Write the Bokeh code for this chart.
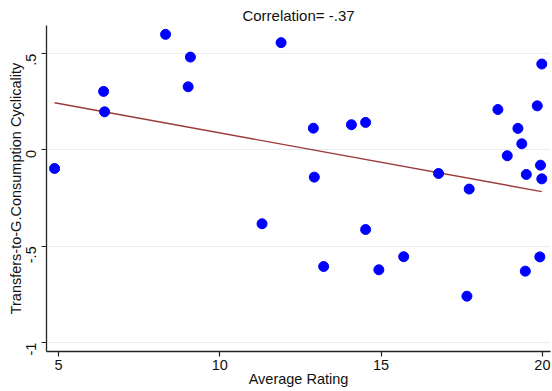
import math
from bokeh.plotting import figure
from bokeh.models import Range1d, FixedTicker, ColumnDataSource
from bokeh.embed import file_html
from bokeh.resources import INLINE

avg_rating = [4.88, 6.40, 6.43, 8.32, 9.09, 9.02, 11.90, 12.90, 14.08, 14.52,
              12.93, 11.31, 14.52, 13.22, 14.93, 15.70, 17.66, 19.47, 19.92,
              16.78, 17.73, 18.91, 19.36, 19.50, 19.94, 19.98, 19.98, 18.62,
              19.84, 19.24]
cyclicality = [-0.096, 0.304, 0.198, 0.600, 0.482, 0.328, 0.557, 0.113, 0.131, 0.143,
               -0.141, -0.383, -0.413, -0.605, -0.622, -0.554, -0.759, -0.629, -0.555,
               -0.122, -0.203, -0.030, 0.032, -0.127, -0.079, -0.150, 0.446, 0.210,
               0.229, 0.112]
# fitted line (at the ends of the data range)
fit_x = [4.88, 19.98]
fit_y = [0.245, -0.216]
x_ticks = [5, 10, 15, 20]
y_ticks = [-1, -0.5, 0, 0.5]
y_tick_labels = ["-1", "-.5", "0", ".5"]
title_text = "Correlation= -.37"
x_label = "Average Rating"
y_label = "Transfers-to-G.Consumption Cyclicality"

FONT = "Liberation Sans"

p = figure(width=552, height=391, output_backend="svg", toolbar_location=None,
           x_range=Range1d(4.63, 20.25), y_range=Range1d(-1.046, 0.646),
           min_border_left=46, min_border_right=2, min_border_top=25,
           min_border_bottom=40, outline_line_color=None, title=title_text)

p.title.align = "center"
p.title.text_font = FONT
p.title.text_font_size = "15px"
p.title.text_font_style = "normal"
p.title.text_color = "#111111"
p.title.standoff = 4

p.line(fit_x, fit_y, line_color="#9b3a3a", line_width=1.4)

src = ColumnDataSource(dict(x=avg_rating, y=cyclicality))
p.scatter("x", "y", source=src, size=10, fill_color="#0000ff", line_color="#0000ff")

p.xgrid.grid_line_color = None
p.ygrid.grid_line_color = "#e6eef1"
p.ygrid.grid_line_width = 1.2

p.xaxis.ticker = FixedTicker(ticks=x_ticks)
p.yaxis.ticker = FixedTicker(ticks=y_ticks)
p.yaxis.major_label_overrides = {t: l for t, l in zip(y_ticks, y_tick_labels)}
p.yaxis.major_label_orientation = math.pi / 2

p.xaxis.axis_label = x_label
p.yaxis.axis_label = y_label

for ax in (p.xaxis, p.yaxis):
    ax.axis_line_color = "#222222"
    ax.axis_line_width = 1.3
    ax.major_tick_line_color = "#222222"
    ax.major_tick_line_width = 1.2
    ax.major_tick_out = 5
    ax.major_tick_in = 0
    ax.minor_tick_line_color = None
    ax.major_label_text_font = FONT
    ax.major_label_text_font_size = "14.5px"
    ax.major_label_text_color = "#111111"
    ax.axis_label_text_font = FONT
    ax.axis_label_text_font_size = "14.5px"
    ax.axis_label_text_font_style = "normal"
    ax.axis_label_text_color = "#111111"

p.xaxis.major_label_standoff = 3
p.xaxis.axis_label_standoff = -2
p.yaxis.major_label_standoff = 10
p.yaxis.axis_label_standoff = -5

open("out.html", "w").write(file_html(p, INLINE))
